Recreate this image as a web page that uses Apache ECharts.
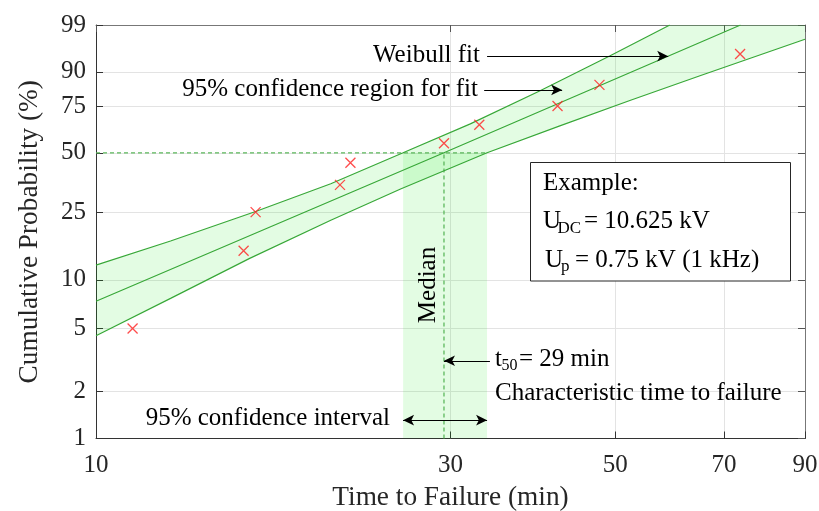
<!DOCTYPE html>
<html>
<head>
<meta charset="utf-8">
<script src="https://cdn.jsdelivr.net/npm/echarts@6/dist/echarts.min.js"></script>
<style>
  html, body { margin: 0; padding: 0; background: #fff; }
  #main { width: 819px; height: 511px; }
</style>
</head>
<body>
<div id="main"></div>
<script>
// failure times (min) with their median-rank probabilities (%)
var failTimes = [11.2, 15.8, 16.4, 21.3, 22.0, 29.4, 32.8, 41.8, 47.6, 73.6];
var failProb = [5, 15, 25, 35, 45, 55, 65, 75, 85, 95];

// Weibull fit line
var fitTimes = [10, 29.4, 73.7];
var fitProb = [7.4, 50, 99];

// 95% confidence bounds of the fit
var upperTimes = [10, 12.6, 16.4, 20.7, 25.9, 31.9, 39.6, 49.2, 59.2];
var upperProb = [12.3, 17.1, 25.2, 35.5, 50, 65.5, 82.4, 94.6, 99];
var lowerTimes = [10, 12.6, 16.1, 20.7, 25.7, 33.6, 42.1, 52.3, 65.0, 90];
var lowerProb = [4.5, 7.7, 13.5, 22.5, 33.3, 50, 64.4, 77.8, 88.6, 97.6];

// median and its confidence interval
var t50 = 29.4;
var ciTimes = [25.9, 33.6];

var xTicks = [10, 30, 50, 70, 90];
var yTicks = [1, 2, 5, 10, 25, 50, 75, 90, 99];

// weibull paper: x = ln(t), y = ln(-ln(1-F))
function tx(t) { return Math.log(t); }
function py(p) { return Math.log(-Math.log(1 - p / 100)); }
function pts(ts, ps) { return ts.map(function (t, i) { return [tx(t), py(ps[i])]; }); }

var FONT = '"Liberation Serif", "Times New Roman", serif';
var GREEN = '#38a838';

var xMin = tx(xTicks[0]), xMax = tx(xTicks[xTicks.length - 1]);
var yMin = py(yTicks[0]), yMax = py(yTicks[yTicks.length - 1]);
var xCustom = xTicks.map(tx);
var yCustom = yTicks.map(py);

// polygon of the confidence region (clipped at the top edge)
var bandPoly = pts(upperTimes, upperProb)
  .concat([[xMax, yMax]])
  .concat(pts(lowerTimes, lowerProb).reverse());
var ciPoly = [[tx(ciTimes[0]), yMin], [tx(ciTimes[1]), yMin], [tx(ciTimes[1]), py(50)], [tx(ciTimes[0]), py(50)]];

var chart = echarts.init(document.getElementById('main'), null, { renderer: 'canvas' });

function arrow(t1, t2, p, both) {
  return [
    { coord: [tx(t1), py(p)], symbol: both ? 'arrow' : 'none' },
    { coord: [tx(t2), py(p)], symbol: 'arrow' }
  ];
}

function polySeries(poly, z) {
  return {
    type: 'custom',
    z: z,
    silent: true,
    clip: true,
    data: [0],
    renderItem: function (params, api) {
      return {
        type: 'polygon',
        shape: { points: poly.map(function (d) { return api.coord(d); }) },
        style: { fill: 'rgba(0, 225, 0, 0.11)', stroke: null }
      };
    }
  };
}

function lineSeries(data, z) {
  return {
    type: 'line',
    z: z,
    data: data,
    showSymbol: false,
    silent: true,
    lineStyle: { color: GREEN, width: 1.2 }
  };
}

var txt = function (s, x, y, opts) {
  opts = opts || {};
  return {
    type: 'text', x: x, y: y, z: 100, rotation: opts.rot || 0,
    style: {
      text: s, fill: '#000', font: (opts.size || 25) + 'px ' + FONT,
      textAlign: opts.align || 'left', textVerticalAlign: 'middle'
    }
  };
};

chart.setOption({
  animation: false,
  grid: { left: 96, right: 14, top: 25, bottom: 72.5, containLabel: false, outerBoundsMode: 'none' },
  xAxis: [{
    type: 'value', min: xMin, max: xMax,
    name: 'Time to Failure (min)', nameLocation: 'middle', nameGap: 46,
    nameTextStyle: { fontFamily: FONT, fontSize: 27.3, color: '#262626' },
    axisLine: { onZero: false, lineStyle: { color: '#333', width: 1 } },
    axisTick: { inside: true, length: 7, customValues: xCustom, lineStyle: { color: '#333' } },
    axisLabel: {
      customValues: xCustom, margin: 14, fontFamily: FONT, fontSize: 25, color: '#262626',
      formatter: function (v) { return Math.round(Math.exp(v)); }
    },
    splitLine: { show: true, lineStyle: { color: '#e3e3e3', width: 1 } }
  }, {
    type: 'value', position: 'top', min: xMin, max: xMax,
    axisLine: { onZero: false, lineStyle: { color: '#777', width: 1 } },
    axisTick: { inside: true, length: 7, customValues: xCustom, lineStyle: { color: '#555' } },
    axisLabel: { show: false },
    splitLine: { show: false }
  }],
  yAxis: [{
    type: 'value', min: yMin, max: yMax,
    name: 'Cumulative Probability (%)', nameLocation: 'middle', nameGap: 53,
    nameTextStyle: { fontFamily: FONT, fontSize: 27.3, color: '#262626' },
    axisLine: { show: true, onZero: false, lineStyle: { color: '#333', width: 1 } },
    axisTick: { show: true, inside: true, length: 7, customValues: yCustom, lineStyle: { color: '#333' } },
    axisLabel: {
      customValues: yCustom, margin: 10, fontFamily: FONT, fontSize: 25, color: '#262626',
      formatter: function (v) { return Math.round(100 * (1 - Math.exp(-Math.exp(v)))); }
    },
    splitLine: { show: true, lineStyle: { color: '#e3e3e3', width: 1 } }
  }, {
    type: 'value', position: 'right', min: yMin, max: yMax,
    axisLine: { show: true, onZero: false, lineStyle: { color: '#777', width: 1 } },
    axisTick: { show: true, inside: true, length: 7, customValues: yCustom, lineStyle: { color: '#555' } },
    axisLabel: { show: false },
    splitLine: { show: false }
  }],
  series: [
    polySeries(bandPoly, 1),
    polySeries(ciPoly, 1),
    // 50 % level and median guide lines
    {
      type: 'line', z: 2, silent: true, showSymbol: false,
      data: [[xMin, py(50)], [tx(ciTimes[1]), py(50)]],
      lineStyle: { color: '#5cb85c', width: 1.3, type: [4, 3] }
    },
    {
      type: 'line', z: 2, silent: true, showSymbol: false,
      data: [[tx(t50), yMin], [tx(t50), py(50)]],
      lineStyle: { color: '#5cb85c', width: 1.3, type: [4, 3] }
    },
    lineSeries(pts(upperTimes, upperProb), 3),
    lineSeries(pts(lowerTimes, lowerProb), 3),
    lineSeries(pts(fitTimes, fitProb), 3),
    {
      type: 'scatter', z: 5, silent: true,
      data: pts(failTimes, failProb),
      symbol: 'path://M0 0L10 10M10 0L0 10',
      symbolSize: 10,
      itemStyle: { color: 'rgba(0,0,0,0)', borderColor: '#ff2020', borderWidth: 1.3 }
    },
    // annotation arrows
    {
      type: 'line', z: 6, data: [], silent: true,
      markLine: {
        silent: true, animation: false,
        symbolSize: [8, 11],
        label: { show: false },
        lineStyle: { color: '#000', width: 1.2, type: 'solid' },
        emphasis: { disabled: true },
        data: [
          arrow(33.6, 58.9, 94.5),
          arrow(33.3, 42.4, 82.8),
          arrow(33.9, t50, 3.13),
          arrow(ciTimes[0], ciTimes[1], 1.31, true)
        ]
      }
    }
  ],
  graphic: [
    txt('Weibull fit', 480, 55, { align: 'right' }),
    txt('95% confidence region for fit', 478, 89, { align: 'right' }),
    txt('Median', 428, 285, { align: 'center', rot: Math.PI / 2 }),
    txt('t', 495, 359),
    txt('50', 501.5, 366, { size: 16 }),
    txt('= 29 min', 519, 359),
    txt('Characteristic time to failure', 495, 393),
    txt('95% confidence interval', 390, 418, { align: 'right' }),
    {
      type: 'rect', z: 90,
      shape: { x: 530.5, y: 162.5, width: 260, height: 118.5 },
      style: { fill: '#fff', stroke: '#262626', lineWidth: 1 }
    },
    txt('Example:', 543, 183),
    txt('U', 543, 221.5),
    txt('DC', 557.5, 229, { size: 17 }),
    txt('= 10.625 kV', 584, 221.5),
    txt('U', 545, 260),
    txt('p', 561, 267, { size: 17 }),
    txt('= 0.75 kV (1 kHz)', 575, 260)
  ]
});
</script>
</body>
</html>
